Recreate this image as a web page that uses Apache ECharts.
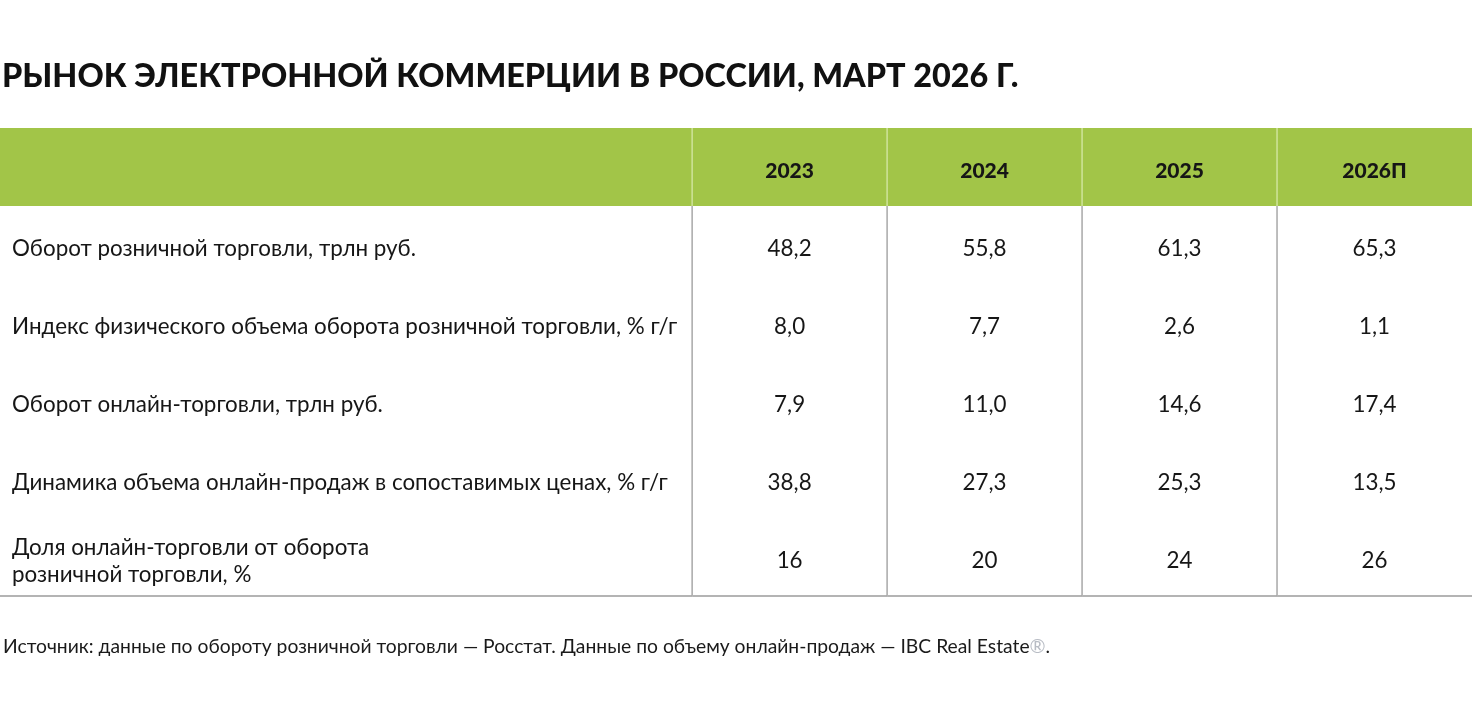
<!DOCTYPE html>
<html>
<head>
<meta charset="utf-8">
<script src="https://cdn.jsdelivr.net/npm/echarts@6/dist/echarts.min.js"></script>
<style>
  html, body { margin: 0; padding: 0; background: #fff; }
  #main { width: 1482px; height: 728px; }
</style>
</head>
<body>
<div id="main"></div>
<script>
// данные таблицы
const years = ["2023", "2024", "2025", "2026П"];
const rowLabels = [
  "Оборот розничной торговли, трлн руб.",
  "Индекс физического объема оборота розничной торговли, % г/г",
  "Оборот онлайн-торговли, трлн руб.",
  "Динамика объема онлайн-продаж в сопоставимых ценах, % г/г",
  "Доля онлайн-торговли от оборота\nрозничной торговли, %"
];
const retailTurnover = ["48,2", "55,8", "61,3", "65,3"];
const retailIndex = ["8,0", "7,7", "2,6", "1,1"];
const onlineTurnover = ["7,9", "11,0", "14,6", "17,4"];
const onlineDynamics = ["38,8", "27,3", "25,3", "13,5"];
const onlineShare = ["16", "20", "24", "26"];

const bodyRows = [retailTurnover, retailIndex, onlineTurnover, onlineDynamics, onlineShare];

// ширина первой колонки в единицах колонки-года
const LABEL_W = 3.55;
const GREEN = "#a2c548";
const FONT = "Lato, 'Noto Sans', sans-serif";

const rowNames = ["header"].concat(rowLabels.map((_, i) => "r" + i));

// ячейки: [колонка, строка, текст]
const cells = [];
cells.push({ value: [0, 0], text: "" });
years.forEach((y, c) => cells.push({ value: [c + 1, 0], text: y }));
rowLabels.forEach((label, r) => {
  cells.push({ value: [0, r + 1], text: label });
  bodyRows[r].forEach((v, c) => cells.push({ value: [c + 1, r + 1], text: v }));
});

const chartDom = document.getElementById("main");
const myChart = echarts.init(chartDom);

const option = {
  animation: false,
  title: [
    {
      text: "РЫНОК ЭЛЕКТРОННОЙ КОММЕРЦИИ В РОССИИ, МАРТ 2026 Г.",
      left: -3,
      top: 56,
      textStyle: { fontFamily: FONT, fontSize: 32.4, fontWeight: 900, color: "#111" }
    },
    {
      text: "Источник: данные по обороту розничной торговли — Росстат. Данные по объему онлайн-продаж — IBC Real Estate{r|®}.",
      left: -2,
      top: 632,
      textStyle: {
        fontFamily: FONT, fontSize: 19.3, fontWeight: 400, color: "#1a1a1a",
        rich: { r: { fontFamily: FONT, fontSize: 19.3, color: "#b8bcc4" } }
      }
    }
  ],
  grid: { left: 0, right: 10, top: 128, bottom: 728 - 596 },
  xAxis: { type: "value", min: 0, max: LABEL_W + years.length, show: false },
  yAxis: { type: "category", data: rowNames, inverse: true, show: false },
  series: [
    {
      type: "custom",
      data: cells,
      clip: false,
      renderItem: function (params, api) {
        const col = api.value(0);
        const row = api.value(1);
        const item = cells[params.dataIndex];
        const x0 = col === 0 ? 0 : LABEL_W + col - 1;
        const x1 = col === 0 ? LABEL_W : x0 + 1;
        const pc = api.coord([x0, row]);
        const pe = api.coord([x1, row]);
        const h = api.size([0, 1])[1];
        const top = pc[1] - h / 2;
        const left = pc[0];
        const w = pe[0] - pc[0];
        const children = [];
        const isHeader = row === 0;
        if (isHeader) {
          children.push({
            type: "rect",
            shape: { x: left, y: top, width: w, height: h },
            style: { fill: GREEN }
          });
        }
        if (col > 0) {
          children.push({
            type: "line",
            shape: { x1: left, y1: top, x2: left, y2: top + h },
            style: { stroke: isHeader ? "#cfe39a" : "#a8a8a8", lineWidth: 1.5 }
          });
        }
        if (row === rowNames.length - 1) {
          children.push({
            type: "line",
            shape: { x1: left, y1: top + h, x2: left + w, y2: top + h },
            style: { stroke: "#b4b4b4", lineWidth: 2 }
          });
        }
        children.push({
          type: "text",
          style: {
            text: item.text,
            x: col === 0 ? left + 12 : left + w / 2,
            y: pc[1] + 4,
            align: col === 0 ? "left" : "center",
            verticalAlign: "middle",
            fontFamily: FONT,
            fontSize: isHeader ? 21 : 22.4,
            fontWeight: isHeader ? 900 : 400,
            lineHeight: 27,
            fill: "#161616"
          }
        });
        return { type: "group", children: children };
      }
    }
  ]
};

option && myChart.setOption(option);
</script>
</body>
</html>
